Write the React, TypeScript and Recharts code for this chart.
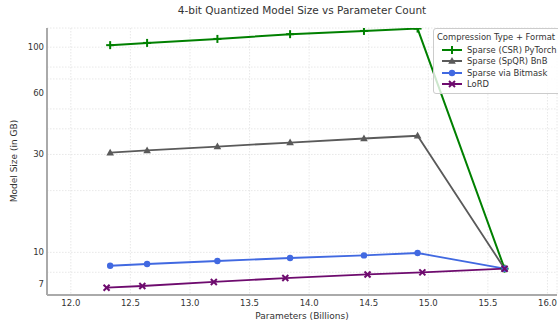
import React from "react";
import { LineChart, Line, XAxis, YAxis, CartesianGrid, Legend } from "recharts";

document.body.style.margin = "0";

// parameter counts (billions)
const paramsB = [12.33, 12.64, 13.23, 13.84, 14.46, 14.91, 15.64];
const lordParamsB = [12.3, 12.6, 13.2, 13.8, 14.49, 14.95, 15.64];

// model size in GB
const csrSize = [102.3, 104.9, 109.7, 115.7, 120.0, 123.2, 8.33];
const spqrSize = [30.6, 31.4, 32.8, 34.3, 35.9, 37.0, 8.33];
const bitmaskSize = [8.61, 8.78, 9.08, 9.39, 9.67, 9.93, 8.33];
const lordSize = [6.73, 6.86, 7.18, 7.5, 7.81, 7.99, 8.33];

const xTicks = [12, 12.5, 13, 13.5, 14, 14.5, 15, 15.5, 16];
const yTicks = [7, 8, 9, 10, 20, 30, 40, 50, 60, 70, 80, 90, 100];
const yLabeled = [7, 10, 30, 60, 100];

const FONT = "'DejaVu Sans', sans-serif";
const TEXT = "#333";

type MarkerKind = "plus" | "triangle" | "circle" | "cross";

const toPoints = (xs: number[], ys: number[]) => xs.map((x, i) => ({ x, y: ys[i] }));

const series = [
  { name: "Sparse (CSR) PyTorch", color: "#008000", marker: "plus" as MarkerKind, data: toPoints(paramsB, csrSize) },
  { name: "Sparse (SpQR) BnB", color: "#5a5a5a", marker: "triangle" as MarkerKind, data: toPoints(paramsB, spqrSize) },
  { name: "Sparse via Bitmask", color: "#4169e1", marker: "circle" as MarkerKind, data: toPoints(paramsB, bitmaskSize) },
  { name: "LoRD", color: "#6e0b6e", marker: "cross" as MarkerKind, data: toPoints(lordParamsB, lordSize) },
];

const Marker = ({ cx, cy, kind, color }: { cx: number; cy: number; kind: MarkerKind; color: string }) => {
  if (kind === "plus")
    return (
      <g stroke={color} strokeWidth={2}>
        <line x1={cx - 4} y1={cy} x2={cx + 4} y2={cy} />
        <line x1={cx} y1={cy - 4} x2={cx} y2={cy + 4} />
      </g>
    );
  if (kind === "triangle")
    return <polygon points={`${cx},${cy - 4} ${cx - 3.8},${cy + 2.8} ${cx + 3.8},${cy + 2.8}`} fill={color} />;
  if (kind === "circle") return <circle cx={cx} cy={cy} r={3.2} fill={color} />;
  return (
    <g stroke={color} strokeWidth={2}>
      <line x1={cx - 3} y1={cy - 3} x2={cx + 3} y2={cy + 3} />
      <line x1={cx - 3} y1={cy + 3} x2={cx + 3} y2={cy - 3} />
    </g>
  );
};

const makeDot = (kind: MarkerKind, color: string) => (props: any) => (
  <Marker key={`${kind}-${props.index}`} cx={props.cx} cy={props.cy} kind={kind} color={color} />
);

const LegendBox = () => (
  <div
    style={{
      fontFamily: FONT,
      fontSize: 8.4,
      color: TEXT,
      background: "rgba(255,255,255,0.8)",
      border: "1px solid #ccc",
      borderRadius: 3,
      padding: "3px 4px 3px 3px",
      whiteSpace: "nowrap",
    }}
  >
    <div style={{ lineHeight: "11px", marginBottom: 1 }}>Compression Type + Format</div>
    {series.map((s) => (
      <div key={s.name} style={{ display: "flex", alignItems: "center", height: 11.5 }}>
        <svg width={22} height={10} style={{ marginRight: 4, marginLeft: 4 }}>
          <line x1={1} y1={5} x2={21} y2={5} stroke={s.color} strokeWidth={2} />
          <Marker cx={11} cy={5} kind={s.marker} color={s.color} />
        </svg>
        <span>{s.name}</span>
      </div>
    ))}
  </div>
);

export default function App() {
  return (
    <div style={{ position: "relative", width: 558, height: 328, background: "#fff" }}>
      <div
        style={{
          position: "absolute", left: 47, width: 510, top: 4, textAlign: "center",
          fontFamily: FONT, fontSize: 10.5, color: TEXT,
        }}
      >
        4-bit Quantized Model Size vs Parameter Count
      </div>
      <div
        style={{
          position: "absolute", left: 14, top: 161, transform: "translate(-50%, -50%) rotate(-90deg)",
          whiteSpace: "nowrap", fontFamily: FONT, fontSize: 9, color: TEXT,
        }}
      >
        Model Size (in GB)
      </div>
      <div
        style={{
          position: "absolute", left: 47, width: 510, top: 311, textAlign: "center",
          fontFamily: FONT, fontSize: 9, color: TEXT,
        }}
      >
        Parameters (Billions)
      </div>
      <LineChart width={558} height={328} margin={{ top: 28, right: 1, left: 0, bottom: 0 }}>
        <CartesianGrid stroke="#e2e2e2" strokeDasharray="1.5 1.5" strokeWidth={0.8} />
        <XAxis
          type="number"
          dataKey="x"
          domain={[11.8, 16.08]}
          ticks={xTicks}
          allowDataOverflow
          height={33}
          tickFormatter={(v: number) => v.toFixed(1)}
          axisLine={{ stroke: "#aaa", strokeWidth: 2 }}
          tickLine={false}
          tickSize={2}
          tickMargin={3}
          tick={{ fill: TEXT, fontSize: 8.5, fontFamily: FONT }}
        />
        <YAxis
          type="number"
          dataKey="y"
          scale="log"
          domain={[6.2, 124]}
          ticks={yTicks}
          allowDataOverflow
          width={47}
          tickFormatter={(v: number) => (yLabeled.includes(v) ? String(v) : "")}
          axisLine={{ stroke: "#aaa", strokeWidth: 2 }}
          tickLine={false}
          tickSize={2}
          tickMargin={1}
          tick={{ fill: TEXT, fontSize: 8.5, fontFamily: FONT }}
        />
        <Legend
          layout="horizontal"
          verticalAlign="middle"
          align="center"
          content={() => <LegendBox />}
          wrapperStyle={{ position: "absolute", top: 28, left: 433, width: "auto", height: "auto" }}
        />
        {series.map((s) => (
          <Line
            key={s.name}
            data={s.data}
            dataKey="y"
            name={s.name}
            type="linear"
            stroke={s.color}
            strokeWidth={s.marker === "plus" ? 2 : 1.8}
            dot={makeDot(s.marker, s.color)}
            activeDot={false}
            isAnimationActive={false}
          />
        ))}
      </LineChart>
    </div>
  );
}
